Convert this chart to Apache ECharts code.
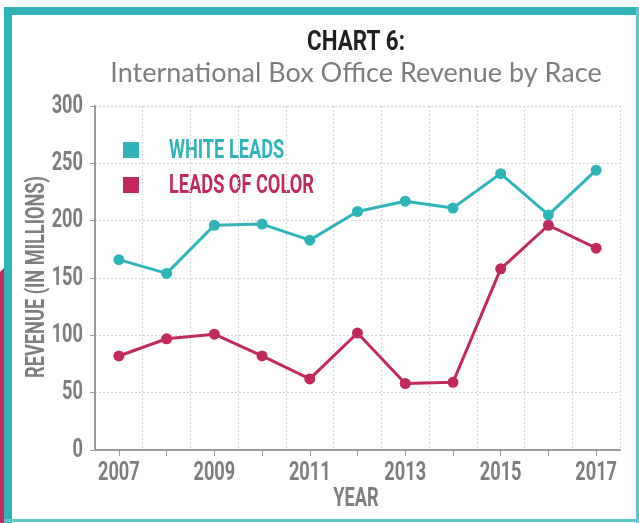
<!DOCTYPE html>
<html>
<head>
<meta charset="utf-8">
<script src="https://cdn.jsdelivr.net/npm/echarts@6/dist/echarts.min.js"></script>
<style>html,body{margin:0;padding:0;background:#fff}#c{width:639px;height:523px}</style>
</head>
<body>
<div id="c"></div>
<script>
const years = ['2007','2008','2009','2010','2011','2012','2013','2014','2015','2016','2017'];
const whiteLeads = [166, 154, 196, 197, 183, 208, 217, 211, 241, 205, 244];
const leadsOfColor = [82, 97, 101, 82, 62, 102, 58, 59, 158, 196, 176];
const xTickLabels = ['2007', '2009', '2011', '2013', '2015', '2017'];
const yTickLabels = [0, 50, 100, 150, 200, 250, 300];
const seriesNames = ['WHITE LEADS', 'LEADS OF COLOR'];

const TEAL = '#2fb5b9';
const MAROON = '#c2295f';
const GRAY = '#7d7d7d';
const CFONT = 'bold 26px Roboto';
const SQX = 0.7;

const chart = echarts.init(document.getElementById('c'), null, { renderer: 'canvas' });
chart.setOption({
  backgroundColor: '#fff',
  animation: false,
  title: [
    { text: 'International Box Office Revenue by Race', left: 356, top: 60, textAlign: 'center', padding: 0,
      textStyle: { fontFamily: 'Lato', fontWeight: 'normal', fontSize: 27, lineHeight: 27, color: GRAY } }
  ],
  legend: {
    orient: 'vertical', left: 123, top: 142, padding: 0, icon: 'rect',
    itemWidth: 16, itemHeight: 16, itemGap: 19,
    formatter: function () { return ''; },
    data: seriesNames
  },
  grid: { left: 95, right: 19, top: 106, bottom: 73, containLabel: false },
  xAxis: {
    type: 'category', data: years, boundaryGap: true,
    axisLine: { show: true, lineStyle: { color: '#9a9a9a', width: 2 } },
    axisTick: { show: true, alignWithLabel: true, interval: 0, length: 6, lineStyle: { color: '#9a9a9a', width: 1 } },
    axisLabel: { show: false },
    splitLine: { show: true, interval: 0, lineStyle: { color: '#d4d4d4', type: [2, 2], width: 1 } }
  },
  yAxis: {
    type: 'value', min: 0, max: 300, interval: 50,
    axisLine: { show: true, lineStyle: { color: '#9a9a9a', width: 2 } },
    axisTick: { show: true, length: 5, lineStyle: { color: '#9a9a9a', width: 1 } },
    axisLabel: { show: false },
    splitLine: { show: true, lineStyle: { color: '#d4d4d4', type: [2, 2], width: 1 } }
  },
  series: [
    { name: seriesNames[0], type: 'line', data: whiteLeads, symbol: 'circle', symbolSize: 11,
      itemStyle: { color: TEAL }, lineStyle: { color: TEAL, width: 3 } },
    { name: seriesNames[1], type: 'line', data: leadsOfColor, symbol: 'circle', symbolSize: 11,
      itemStyle: { color: MAROON }, lineStyle: { color: MAROON, width: 3 } },
    { name: 'xTickLabels', type: 'custom', coordinateSystem: 'cartesian2d', clip: false, silent: true, z: 10,
      data: xTickLabels.map(function (l) { return [l, 0]; }),
      encode: { x: 0, y: 1 },
      renderItem: function (params, api) {
        const p = api.coord([api.value(0), 0]);
        return { type: 'text', x: p[0], y: p[1] + 23, scaleX: SQX,
          style: { text: xTickLabels[params.dataIndex], font: CFONT, fill: GRAY, align: 'center', verticalAlign: 'middle' } };
      } },
    { name: 'yTickLabels', type: 'custom', coordinateSystem: 'cartesian2d', clip: false, silent: true, z: 10,
      data: yTickLabels.map(function (v) { return [0, v]; }),
      encode: { x: 0, y: 1 },
      renderItem: function (params, api) {
        const p = api.coord([0, api.value(1)]);
        return { type: 'text', x: params.coordSys.x - 12, y: p[1], scaleX: SQX,
          style: { text: String(yTickLabels[params.dataIndex]), font: CFONT, fill: GRAY, align: 'right', verticalAlign: 'middle' } };
      } }
  ],
  graphic: [
    { type: 'polygon', shape: { points: [[0, 272], [4, 268], [4, 523], [0, 523]] }, style: { fill: MAROON }, silent: true },
    { type: 'rect', shape: { x: 4, y: 7, width: 635, height: 8 }, style: { fill: TEAL }, silent: true },
    { type: 'rect', shape: { x: 4, y: 7, width: 8, height: 516 }, style: { fill: TEAL }, silent: true },
    { type: 'rect', shape: { x: 636, y: 7, width: 3, height: 516 }, style: { fill: '#5cc8cb' }, silent: true },
    { type: 'rect', shape: { x: 4, y: 519, width: 635, height: 3 }, style: { fill: '#5cc8cb' }, silent: true },
    { type: 'text', x: 356, y: 43, scaleX: 0.8, silent: true,
      style: { text: 'CHART 6:', font: 'bold 28px Roboto', fill: '#231f20', align: 'center', verticalAlign: 'middle' } },
    { type: 'text', x: 169, y: 151, scaleX: SQX, silent: true,
      style: { text: seriesNames[0], font: CFONT, fill: TEAL, align: 'left', verticalAlign: 'middle' } },
    { type: 'text', x: 169, y: 186, scaleX: SQX, silent: true,
      style: { text: seriesNames[1], font: CFONT, fill: MAROON, align: 'left', verticalAlign: 'middle' } },
    { type: 'text', x: 356, y: 499, scaleX: SQX, silent: true,
      style: { text: 'YEAR', font: CFONT, fill: GRAY, align: 'center', verticalAlign: 'middle' } },
    { type: 'text', x: 37, y: 277, rotation: Math.PI / 2, scaleX: SQX, silent: true,
      style: { text: 'REVENUE (IN MILLIONS)', font: CFONT, fill: GRAY, align: 'center', verticalAlign: 'middle' } }
  ]
});
</script>
</body>
</html>
